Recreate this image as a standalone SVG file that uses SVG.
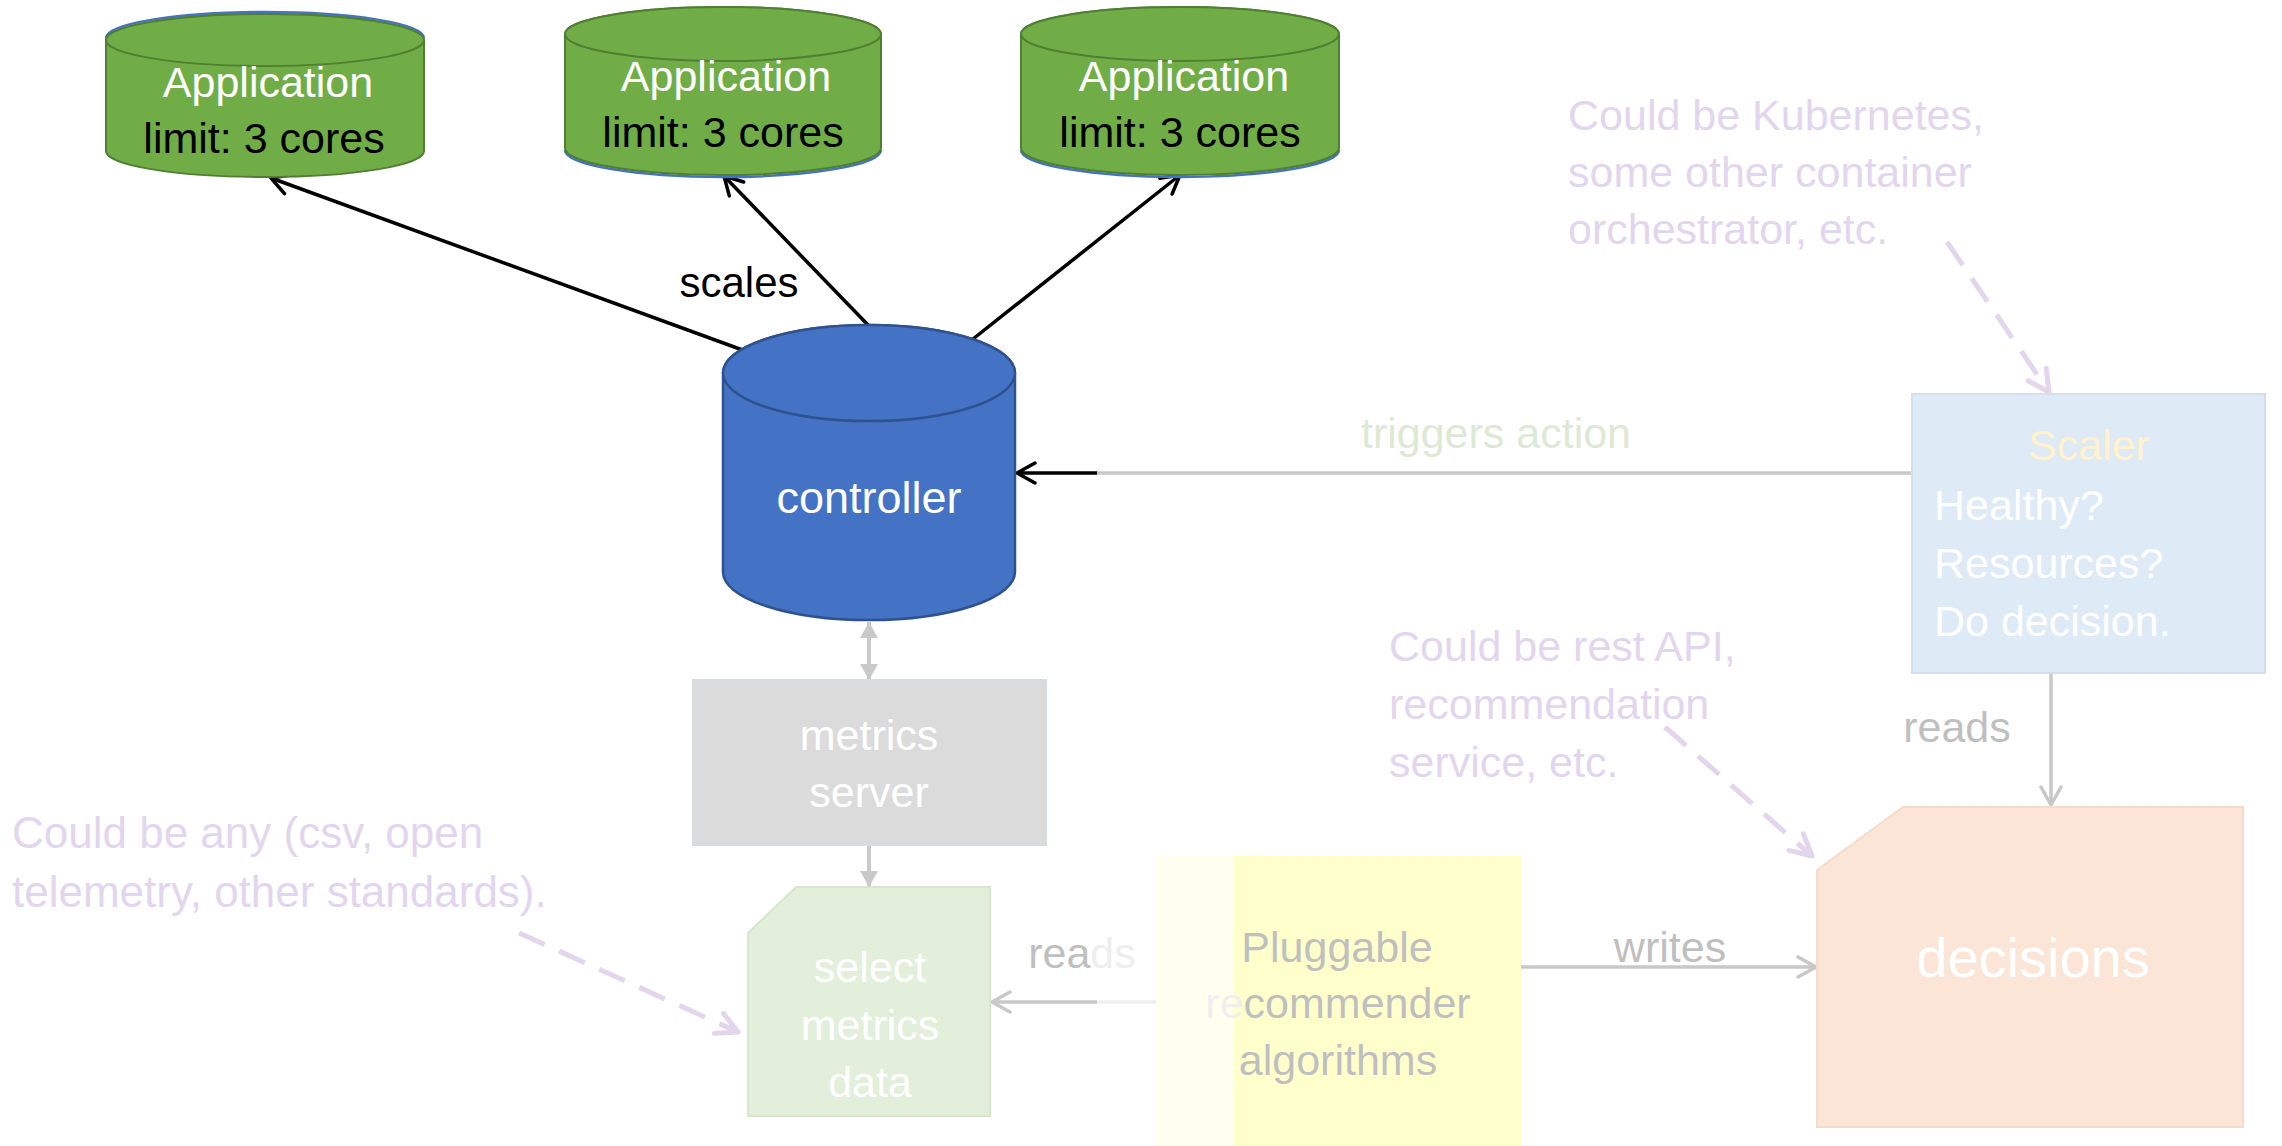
<svg xmlns="http://www.w3.org/2000/svg" width="2282" height="1146" viewBox="0 0 2282 1146">
<style>
text{font-family:"Liberation Sans",Arial,sans-serif;font-size:43px}
.c{text-anchor:middle}
.w{fill:#FFFFFF}
.k{fill:#000000}
.g{fill:#BFBFBF}
.p{fill:#E2D6EE}
.app{fill:#70AD47;stroke:#507E32;stroke-width:2}
.ctl{fill:#4472C4;stroke:#2F528F;stroke-width:2.5}
.blk{stroke:#000;stroke-width:3.5;fill:none}
.gry{stroke:#C8C8C8;stroke-width:3.5;fill:none}
.dash{stroke:#E2D5EC;stroke-width:5;fill:none;stroke-dasharray:28 16}
</style>
<defs>
<marker id="aBlack" viewBox="0 0 24 24" refX="21" refY="12" markerWidth="24" markerHeight="24" markerUnits="userSpaceOnUse" orient="auto"><path d="M3,2 L21,12 L3,22" fill="none" stroke="#000" stroke-width="3.5" stroke-linejoin="round" stroke-linecap="round"/></marker>
<marker id="aGray" viewBox="0 0 24 24" refX="21" refY="12" markerWidth="24" markerHeight="24" markerUnits="userSpaceOnUse" orient="auto"><path d="M3,2 L21,12 L3,22" fill="none" stroke="#C8C8C8" stroke-width="3.5" stroke-linejoin="round" stroke-linecap="round"/></marker>
<marker id="aTri" viewBox="0 0 16 18" refX="16" refY="9" markerWidth="16" markerHeight="18" markerUnits="userSpaceOnUse" orient="auto"><path d="M0,0 L16,9 L0,18 Z" fill="#C9C9C9"/></marker>
<marker id="aTriS" viewBox="0 0 16 18" refX="0" refY="9" markerWidth="16" markerHeight="18" markerUnits="userSpaceOnUse" orient="auto"><path d="M16,0 L0,9 L16,18 Z" fill="#C9C9C9"/></marker>
<marker id="aPurp" viewBox="0 0 28 28" refX="25" refY="14" markerWidth="28" markerHeight="28" markerUnits="userSpaceOnUse" orient="auto"><path d="M4,3 L25,14 L4,25" fill="none" stroke="#E2D5EC" stroke-width="5" stroke-linejoin="round" stroke-linecap="round"/></marker>
</defs>

<g id="connectors">
<line class="blk" x1="748" y1="352" x2="271" y2="178" marker-end="url(#aBlack)"/>
<line class="blk" x1="869" y1="326" x2="724" y2="176" marker-end="url(#aBlack)"/>
<line class="blk" x1="973" y1="339" x2="1180" y2="175" marker-end="url(#aBlack)"/>
<line class="gry" x1="1911" y1="473" x2="1097" y2="473"/>
<line class="blk" x1="1097" y1="473" x2="1017" y2="473" marker-end="url(#aBlack)"/>
<line x1="869" y1="622" x2="869" y2="680" stroke="#C9C9C9" stroke-width="4" marker-start="url(#aTriS)" marker-end="url(#aTri)"/>
<line x1="869" y1="846" x2="869" y2="887" stroke="#C9C9C9" stroke-width="4" marker-end="url(#aTri)"/>
<line x1="1163" y1="1002" x2="1097" y2="1002" stroke="#EFEFEF" stroke-width="3.5"/>
<line class="gry" x1="1097" y1="1002" x2="992" y2="1002" marker-end="url(#aGray)"/>
<line class="gry" x1="1513" y1="967" x2="1816" y2="967" marker-end="url(#aGray)"/>
<line class="gry" x1="2051" y1="674" x2="2051" y2="805" marker-end="url(#aGray)"/>
<line class="dash" x1="519" y1="933" x2="738" y2="1032" marker-end="url(#aPurp)"/>
<line class="dash" x1="1947" y1="242" x2="2049" y2="392" marker-end="url(#aPurp)"/>
<line class="dash" x1="1665" y1="727" x2="1812" y2="856" marker-end="url(#aPurp)"/>
<text x="739" y="297" class="c k" style="font-size:42px">scales</text>
<text x="1496" y="448" class="c" fill="#DDE9D5">triggers action</text>
<text x="1082" y="968" class="c"><tspan fill="#BFBFBF">rea</tspan><tspan fill="#EEEEEE">ds</tspan></text>
<text x="1670" y="962" class="c g">writes</text>
<text x="1957" y="742" class="c g">reads</text>
</g>

<g id="app1">
<path d="M106,38 A159,26 0 0 1 424,38" fill="none" stroke="#4472C4" stroke-width="2.5"/>
<path class="app" d="M106,40 A159,26 0 0 1 424,40 V151 A159,26 0 0 1 106,151 Z"/>
<ellipse class="app" cx="265" cy="40" rx="159" ry="26"/>
<text x="268" y="97" class="c w">Application</text>
<text x="264" y="153" class="c k">limit: 3 cores</text>
</g>

<g id="app2">
<path d="M565,150 A158,27 0 0 0 881,150" fill="none" stroke="#4472C4" stroke-width="2.5"/>
<path class="app" d="M565,34 A158,27 0 0 1 881,34 V148 A158,27 0 0 1 565,148 Z"/>
<ellipse class="app" cx="723" cy="34" rx="158" ry="27"/>
<text x="726" y="91" class="c w">Application</text>
<text x="723" y="147" class="c k">limit: 3 cores</text>
</g>

<g id="app3">
<path d="M1021,150 A159,27 0 0 0 1339,150" fill="none" stroke="#4472C4" stroke-width="2.5"/>
<path class="app" d="M1021,34 A159,27 0 0 1 1339,34 V148 A159,27 0 0 1 1021,148 Z"/>
<ellipse class="app" cx="1180" cy="34" rx="159" ry="27"/>
<text x="1184" y="91" class="c w">Application</text>
<text x="1180" y="147" class="c k">limit: 3 cores</text>
</g>

<g id="controller">
<path class="ctl" d="M723,373 A146,48 0 0 1 1015,373 V572 A146,48 0 0 1 723,572 Z"/>
<ellipse class="ctl" cx="869" cy="373" rx="146" ry="48"/>
<text x="869" y="513" class="c w" style="font-size:45px">controller</text>
</g>

<g id="scaler">
<rect x="1912" y="394" width="353" height="279" fill="#DEEAF6" stroke="#D3DEEE" stroke-width="2"/>
<text x="2089" y="460" class="c" fill="#FFF2CC">Scaler</text>
<text x="1934" y="520" class="w">Healthy?</text>
<text x="1934" y="578" class="w">Resources?</text>
<text x="1934" y="636" class="w">Do decision.</text>
</g>

<g id="metrics-server">
<rect x="693" y="680" width="353" height="165" fill="#DBDBDB" stroke="#D6DCE5" stroke-width="2"/>
<text x="869" y="750" class="c w">metrics</text>
<text x="869" y="807" class="c w">server</text>
</g>

<g id="select-metrics-data">
<path d="M748,933 L796,887 H990 V1116 H748 Z" fill="#E2EFDA" stroke="#D9E6CF" stroke-width="2"/>
<text x="870" y="982" class="c w">select</text>
<text x="870" y="1040" class="c w">metrics</text>
<text x="870" y="1097" class="c w">data</text>
</g>

<g id="recommender">
<rect x="1156" y="856" width="365" height="290" fill="#FFFFCC"/>
<rect x="1156" y="856" width="78" height="290" fill="#FFFFF0"/>
<text x="1337" y="962" class="c g">Pluggable</text>
<text x="1338" y="1018" class="c"><tspan fill="#EFEFEF">re</tspan><tspan fill="#BFBFBF">commender</tspan></text>
<text x="1338" y="1075" class="c g">algorithms</text>
</g>

<g id="decisions">
<path d="M1817,870 L1903,807 H2243 V1127 H1817 Z" fill="#FBE5D6" stroke="#F6DACA" stroke-width="2"/>
<text x="2033" y="977" class="c w" style="font-size:56px">decisions</text>
</g>

<g id="note-orchestrator">
<text x="1568" y="130" class="p">Could be Kubernetes,</text>
<text x="1568" y="187" class="p">some other container</text>
<text x="1568" y="244" class="p">orchestrator, etc.</text>
</g>

<g id="note-api">
<text x="1389" y="661" class="p">Could be rest API,</text>
<text x="1389" y="719" class="p">recommendation</text>
<text x="1389" y="777" class="p">service, etc.</text>
</g>

<g id="note-formats">
<text x="12" y="848" class="p" style="font-size:44px">Could be any (csv, open</text>
<text x="12" y="907" class="p" style="font-size:44px">telemetry, other standards).</text>
</g>
</svg>
